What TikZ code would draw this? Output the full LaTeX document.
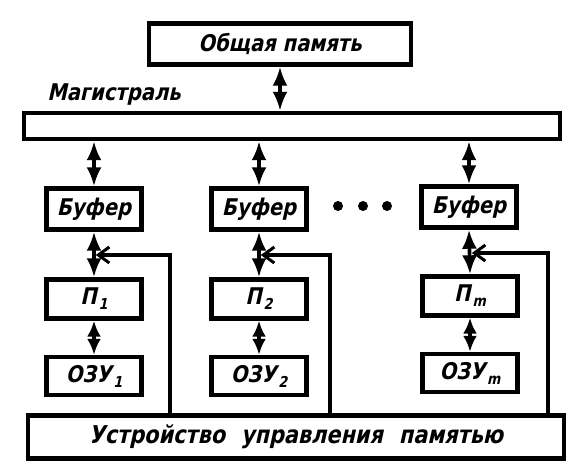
\documentclass[tikz,border=0pt]{standalone}
\usepackage{fontspec}
\newfontfamily\gost{DejaVu Sans}[FakeSlant=0.22,FakeStretch=0.85]
\usetikzlibrary{arrows.meta}
\newcommand{\sbs}[1]{\kern2pt\raisebox{-5pt}{\fontsize{15}{15}\selectfont #1}}
\begin{document}
\begin{tikzpicture}[x=1pt,y=-1pt,
  txt/.style={font=\gost\bfseries\fontsize{23}{26}\selectfont},
  blk/.style={txt,draw,line width=4.4pt,inner sep=0pt},
  dbl/.style={line width=3.6pt,{Latex[length=19pt,width=15pt]}-{Latex[length=19pt,width=15pt]}},
  dbls/.style={line width=3.6pt,{Latex[length=16pt,width=14pt]}-{Latex[length=16pt,width=14pt]}},
  fb/.style={line width=3.6pt,-{Straight Barb[length=11pt,width=16pt,line width=3pt]},shorten >=1.8pt},
  dotn/.style={circle,fill,inner sep=0pt,minimum size=10pt}]
\useasboundingbox (0,0) rectangle (588,472);
\node[blk,minimum width=262pt,minimum height=41pt] (top) at (280,44) {Общая память};
\node[txt] (mlab) at (114,95) {Магистраль};
\node[blk,minimum width=536pt,minimum height=26pt] (bar) at (292,126) {};
\node[blk,minimum width=95pt,minimum height=41pt] (b1) at (94,209) {Буфер};
\node[blk,minimum width=95pt,minimum height=41pt] (b2) at (259,209) {Буфер};
\node[blk,minimum width=95pt,minimum height=41pt] (b3) at (469,207) {Буфер};
\node[blk,minimum width=95pt,minimum height=39pt] (p1) at (94,299) {П\sbs{1}};
\node[blk,minimum width=95pt,minimum height=39pt] (p2) at (259,299) {П\sbs{2}};
\node[blk,minimum width=95pt,minimum height=39pt] (p3) at (470,296) {П\sbs{m}};
\node[blk,minimum width=95pt,minimum height=38pt] (r1) at (94,376) {ОЗУ\sbs{1}};
\node[blk,minimum width=95pt,minimum height=38pt] (r2) at (259,376) {ОЗУ\sbs{2}};
\node[blk,minimum width=95pt,minimum height=38pt] (r3) at (470,373) {ОЗУ\sbs{m}};
\node[blk,minimum width=536pt,minimum height=43pt,font=\gost\bfseries\fontsize{24.5}{28}\selectfont] (ctrl) at (296,437) {Устройство\hspace{16pt}управления\hspace{16pt}памятью};
\node[dotn] (d1) at (338,206) {};
\node[dotn] (d2) at (363,206) {};
\node[dotn] (d3) at (387,206) {};
\draw[dbl] (top.south) -- (top.south |- bar.north);
\foreach \b/\p/\r in {b1/p1/r1,b2/p2/r2,b3/p3/r3}{
  \draw[dbl] (\b.north |- bar.south) -- (\b.north);
  \draw[dbl] (\b.south) -- (\p.north);
  \draw[dbls] (\p.south) -- (\r.north);
}
\coordinate (f1) at (170,255);
\coordinate (f2) at (330,255);
\coordinate (f3) at (548,253);
\draw[fb] (ctrl.north -| f1) -- (f1) -- (f1 -| p1.north);
\draw[fb] (ctrl.north -| f2) -- (f2) -- (f2 -| p2.north);
\draw[fb] (ctrl.north -| f3) -- (f3) -- (f3 -| p3.north);
\end{tikzpicture}
\end{document}
